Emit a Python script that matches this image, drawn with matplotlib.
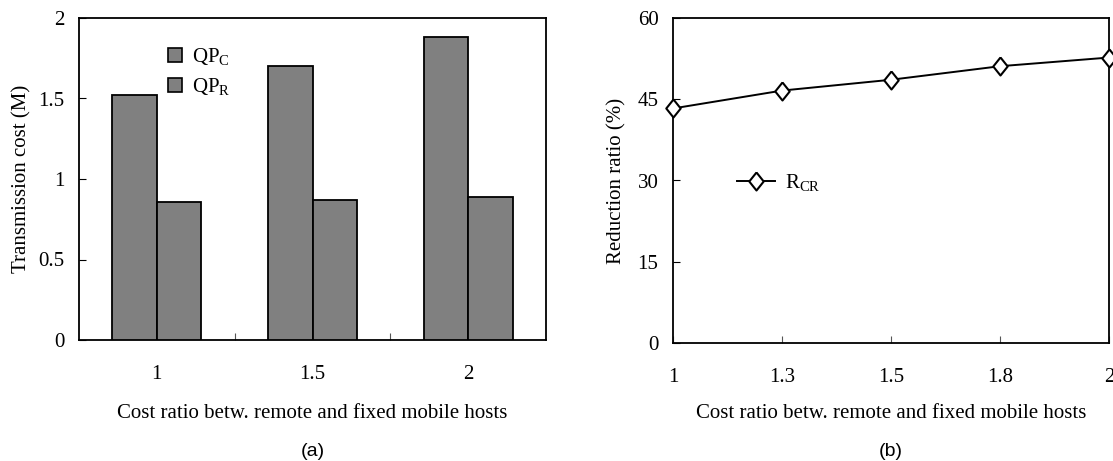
import matplotlib
matplotlib.use("Agg")
import matplotlib.pyplot as plt
from matplotlib.patches import Patch
from matplotlib.ticker import FixedLocator, NullFormatter

# Data
ratio_bar = ["1", "1.5", "2"]
qp_c = [1.52, 1.70, 1.88]
qp_r = [0.86, 0.87, 0.89]

ratio_line = ["1", "1.3", "1.5", "1.8", "2"]
r_cr = [43.3, 46.6, 48.6, 51.1, 52.7]

plt.rcParams["font.family"] = ["Liberation Serif", "DejaVu Serif"]
plt.rcParams["mathtext.fontset"] = "custom"
plt.rcParams["mathtext.rm"] = "Liberation Serif"
plt.rcParams["mathtext.default"] = "rm"

FS = 15
BAR_GRAY = "#808080"
DIAMOND = [(0, 1), (0.8, 0), (0, -1), (-0.8, 0), (0, 1)]

fig = plt.figure(figsize=(11.13, 4.61), dpi=100)
W, H = 1113, 461


def px_axes(left, top, right, bottom):
    return fig.add_axes([left / W, (H - bottom) / H, (right - left) / W, (bottom - top) / H])


# ---- (a) transmission cost bars ----
ax1 = px_axes(79, 18, 546, 340)
xs = list(range(len(ratio_bar)))
bw = 0.286
ax1.bar([x - bw / 2 for x in xs], qp_c, width=bw, color=BAR_GRAY, edgecolor="black",
        linewidth=1.3, label="QP$_{C}$", zorder=3)
ax1.bar([x + bw / 2 for x in xs], qp_r, width=bw, color=BAR_GRAY, edgecolor="black",
        linewidth=1.3, label="QP$_{R}$", zorder=3)
ax1.set_xlim(-0.5, len(xs) - 0.5)
ax1.set_ylim(0, 2)
ax1.set_xticks(xs)
ax1.set_xticklabels(ratio_bar)
ax1.xaxis.set_minor_locator(FixedLocator([0.5, 1.5]))
ax1.xaxis.set_minor_formatter(NullFormatter())
ax1.tick_params(axis="x", which="major", length=0, pad=18, labelsize=FS)
ax1.tick_params(axis="x", which="minor", direction="in", length=5, width=0.8, color="#555555")
ax1.set_yticks([0, 0.5, 1, 1.5, 2])
ax1.set_yticklabels(["0", "0.5", "1", "1.5", "2"])
ax1.tick_params(axis="y", direction="in", length=5, width=0.8, pad=10.5, labelsize=FS)
for s in ax1.spines.values():
    s.set_linewidth(1.3)
ax1.set_ylabel("Transmission cost (M)", fontsize=FS)
ax1.yaxis.set_label_coords(-(79 - 22) / (546 - 79), 0.5)
ax1.yaxis.label.set_va("center")

leg_handles = [Patch(facecolor=BAR_GRAY, edgecolor="black", linewidth=1.2, label="QP$_{C}$"),
               Patch(facecolor=BAR_GRAY, edgecolor="black", linewidth=1.2, label="QP$_{R}$")]
ax1.legend(handles=leg_handles, loc="upper left", frameon=False, fontsize=FS,
           bbox_to_anchor=(168 / W, (H - 46) / H), bbox_transform=fig.transFigure,
           handlelength=0.65, handleheight=0.65, handletextpad=0.5, labelspacing=0.45,
           borderpad=0, borderaxespad=0)

# ---- (b) reduction ratio line ----
ax2 = px_axes(673, 18, 1109, 343)
xl = list(range(len(ratio_line)))
ax2.plot(xl, r_cr, color="black", linewidth=1.4, marker=DIAMOND, markersize=13,
         markerfacecolor="white", markeredgecolor="black", markeredgewidth=1.5,
         label="R$_{CR}$", clip_on=False, zorder=4)
ax2.set_xlim(0, len(xl) - 1)
ax2.set_ylim(0, 60)
ax2.set_xticks(xl)
ax2.set_xticklabels(ratio_line)
ax2.tick_params(axis="x", direction="in", length=5, width=0.8, color="#555555", pad=18,
                labelsize=FS)
ax2.set_yticks([0, 15, 30, 45, 60])
ax2.tick_params(axis="y", direction="in", length=5, width=0.8, pad=10.5, labelsize=FS)
for s in ax2.spines.values():
    s.set_linewidth(1.3)
ax2.set_ylabel("Reduction ratio (%)", fontsize=FS)
ax2.yaxis.set_label_coords(-(673 - 617) / (1109 - 673), 0.5)
ax2.yaxis.label.set_va("center")
ax2.legend(loc="upper left", frameon=False, fontsize=FS,
           bbox_to_anchor=(737 / W, (H - 172) / H), bbox_transform=fig.transFigure,
           handlelength=1.8, handletextpad=0.5, borderpad=0, borderaxespad=0)

# axis titles and panel captions
for cx in (312.5, 891):
    fig.text(cx / W, (H - 418) / H, "Cost ratio betw. remote and fixed mobile hosts",
             ha="center", va="baseline", fontsize=FS)
fig.text(312.5 / W, (H - 451) / H, "(a)", ha="center", va="center", fontsize=14,
         family=["Liberation Sans", "DejaVu Sans"])
fig.text(891 / W, (H - 451) / H, "(b)", ha="center", va="center", fontsize=14,
         family=["Liberation Sans", "DejaVu Sans"])

fig.savefig("out.png", dpi=100)
